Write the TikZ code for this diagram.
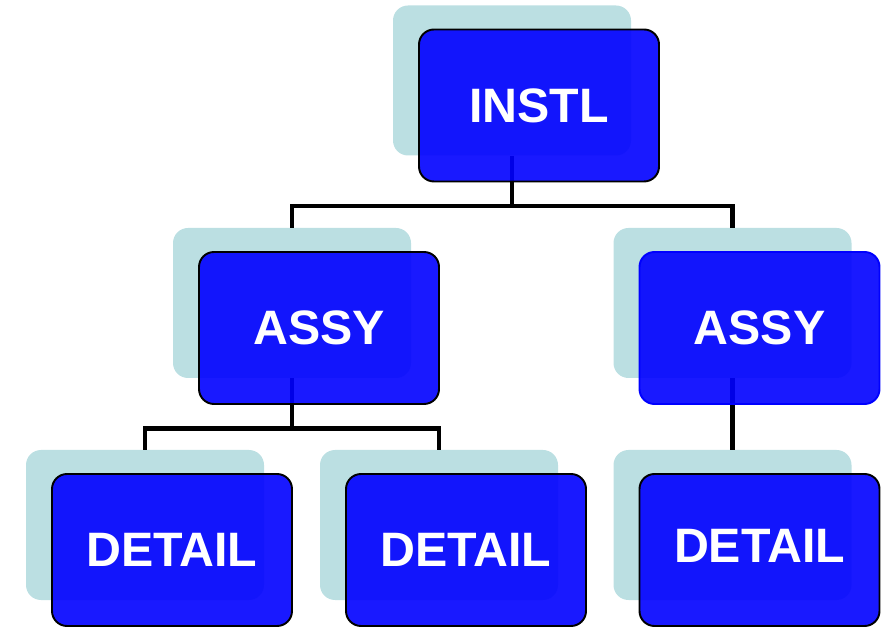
\documentclass[tikz,border=0pt]{standalone}
\usepackage{fontspec}
\setmainfont{Liberation Sans}
\usepackage{tikz}
\usetikzlibrary{positioning,calc}

\definecolor{shade}{RGB}{187,223,226}

\begin{document}
\begin{tikzpicture}[
  font=\bfseries\fontsize{27.5}{30}\selectfont,
  back/.style={fill=shade,rounded corners=3mm,minimum width=47.6mm,minimum height=30mm,inner sep=0pt},
  part/.style={draw=black,line width=1.1pt,fill=blue,fill opacity=0.9,text opacity=1,text=white,
    rounded corners=3mm,minimum width=48mm,minimum height=30.4mm,inner sep=0pt},
  link/.style={line width=2.6pt}]
  \useasboundingbox (0,0) rectangle (17.78,-12.54);
  % front boxes are placed at coordinates, their shadows sit up-left
  \coordinate (instl-p) at (10.78,-2.11);
  \coordinate (assyl-p) at (6.38,-6.56);
  \coordinate (assyr-p) at (15.19,-6.56);
  \coordinate (detl-p) at (3.44,-11.0);
  \coordinate (detm-p) at (9.32,-11.0);
  \coordinate (detr-p) at (15.19,-11.0);
  \foreach \n in {instl,assyl,assyr,detl,detm,detr} {
    \node[back] (\n-b) at ($(\n-p)+(-0.54,0.5)$) {};
  }
  % tree lines run between the shadows, under the boxes
  \draw[link] (instl-b.south) -- ++(0,-1) -| (assyl-b.north);
  \draw[link] (instl-b.south) -- ++(0,-1) -| (assyr-b.north);
  \draw[link] (assyl-b.south) -- ++(0,-1) -| (detl-b.north);
  \draw[link] (assyl-b.south) -- ++(0,-1) -| (detm-b.north);
  \draw[link] (assyr-b.south) -- (detr-b.north);
  \node[part] (instl) at (instl-p) {INSTL};
  \node[part] (assyl) at (assyl-p) {ASSY};
  \node[part,draw=blue] (assyr) at (assyr-p) {ASSY};
  \node[part] (detl) at (detl-p) {DETAIL};
  \node[part] (detm) at (detm-p) {DETAIL};
  \node[part] (detr) at (detr-p) {\raisebox{1.5mm}{DETAIL}};
\end{tikzpicture}
\end{document}
